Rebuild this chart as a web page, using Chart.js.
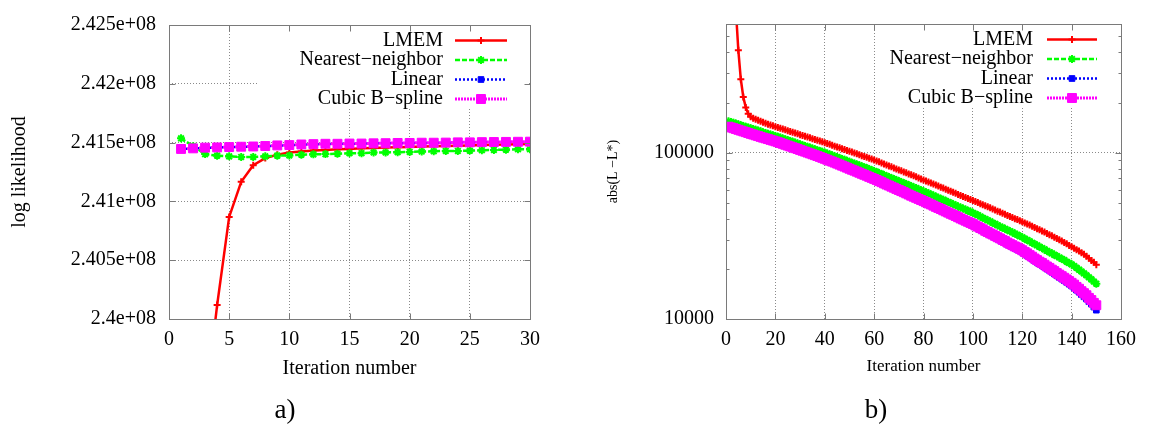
<!DOCTYPE html>
<html>
<head>
<meta charset="utf-8">
<script src="https://cdn.jsdelivr.net/npm/chart.js@4.4.0/dist/chart.umd.min.js"></script>
<style>
  html, body { margin: 0; padding: 0; background: #fff; }
  body { width: 1150px; height: 426px; position: relative; overflow: hidden;
         font-family: 'Liberation Serif', 'Times New Roman', serif; }
  .panel { position: absolute; top: 0; width: 575px; height: 426px; }
  .caption { position: absolute; top: 396px; width: 60px; font-size: 27px; line-height: 27px; text-align: center; }
</style>
</head>
<body>
<div class="panel" style="left:0"><canvas id="likelihoodChart" width="575" height="426"></canvas></div>
<div class="panel" style="left:575px"><canvas id="errorChart" width="575" height="426"></canvas></div>
<div class="caption" style="left:255px">a)</div>
<div class="caption" style="left:846px">b)</div>
<script>
// ---- a) log likelihood over the first 30 iterations ----
const likelihoodIterations = [1, 2, 3, 4, 5, 6, 7, 8, 9, 10, 11, 12, 13, 14, 15,
  16, 17, 18, 19, 20, 21, 22, 23, 24, 25, 26, 27, 28, 29, 30];
const lmemLikelihood = [233000000, 236500000, 239240000, 240118000, 240868000, 241167000, 241307000, 241368000, 241397000, 241416000,
  241424000, 241432000, 241438000, 241443000, 241446000, 241451000, 241455000, 241459000, 241461000, 241463000,
  241466000, 241468000, 241471000, 241473000, 241476000, 241479000, 241481000, 241484000, 241486000, 241489000];
const nearestLikelihood = [241536000, 241470000, 241402000, 241389000, 241383000, 241378000, 241378000, 241383000, 241389000, 241391000,
  241397000, 241400000, 241402000, 241405000, 241410000, 241410000, 241416000, 241416000, 241418000, 241421000,
  241424000, 241426000, 241429000, 241429000, 241432000, 241435000, 241438000, 241440000, 241443000, 241443000];
const linearLikelihood = [241445000, 241450000, 241455000, 241458000, 241461000, 241463000, 241466000, 241470000, 241474000, 241478000,
  241482000, 241485000, 241488000, 241489000, 241490000, 241491000, 241493000, 241494000, 241495000, 241496000,
  241497000, 241498000, 241499000, 241500000, 241501000, 241502000, 241503000, 241504000, 241505000, 241506000];
const bsplineLikelihood = [241446000, 241451000, 241457000, 241459000, 241462000, 241465000, 241467000, 241471000, 241476000, 241479000,
  241484000, 241487000, 241490000, 241490000, 241492000, 241492000, 241494000, 241495000, 241497000, 241497000,
  241499000, 241499000, 241500000, 241502000, 241502000, 241504000, 241505000, 241506000, 241507000, 241508000];
const likelihoodTickValues = [240000000, 240500000, 241000000, 241500000, 242000000, 242500000];
const likelihoodTickLabels = ['2.4e+08', '2.405e+08', '2.41e+08', '2.415e+08', '2.42e+08', '2.425e+08'];

// ---- b) abs(L - L*) over 150 iterations ----
const errorIterations = Array.from({ length: 150 }, (_, i) => i + 1);
const lmemError = [5000000, 2500000, 1260000, 720000, 412000, 276000, 216000, 187000, 171000, 164000,
  161100, 158500, 156300, 154200, 152100, 150300, 148300, 146600, 144900, 143200,
  141700, 140100, 138600, 137000, 135500, 134000, 132600, 131100, 129700, 128200,
  126800, 125400, 124000, 122700, 121300, 120000, 118700, 117400, 116100, 114800,
  113500, 112100, 110800, 109400, 108100, 106900, 105600, 104400, 103100, 101900,
  100700, 99500, 98300, 97100, 95900, 94800, 93700, 92600, 91500, 90400,
  89200, 88000, 86700, 85500, 84300, 83200, 82100, 80900, 79800, 78700,
  77700, 76600, 75600, 74500, 73500, 72500, 71500, 70500, 69500, 68500,
  67600, 66600, 65700, 64700, 63800, 62900, 62000, 61200, 60300, 59400,
  58600, 57800, 56900, 56100, 55300, 54500, 53800, 53000, 52300, 51500,
  50800, 50100, 49300, 48600, 47900, 47200, 46600, 45900, 45200, 44500,
  43900, 43200, 42600, 41900, 41300, 40700, 40100, 39600, 39000, 38400,
  37800, 37200, 36700, 36100, 35500, 34900, 34400, 33800, 33300, 32700,
  32100, 31600, 31000, 30500, 29900, 29400, 28800, 28300, 27700, 27200,
  26600, 26100, 25600, 25000, 24500, 23800, 23200, 22500, 21900, 21200];
const nearestError = [154500, 152800, 151200, 149500, 147900, 146300, 144700, 143200, 141600, 140000,
  138500, 137100, 135600, 134200, 132700, 131300, 130000, 128600, 127300, 125900,
  124500, 123100, 121700, 120300, 118900, 117600, 116200, 114900, 113500, 112200,
  110900, 109700, 108400, 107200, 105900, 104700, 103500, 102400, 101200, 100000,
  98800, 97600, 96400, 95200, 94000, 92800, 91600, 90500, 89300, 88100,
  87000, 86000, 84900, 83900, 82800, 81800, 80700, 79700, 78600, 77600,
  76600, 75500, 74500, 73400, 72400, 71400, 70400, 69500, 68500, 67500,
  66600, 65700, 64700, 63800, 62900, 62000, 61200, 60300, 59500, 58600,
  57800, 56900, 56100, 55200, 54400, 53600, 52800, 52100, 51300, 50500,
  49800, 49000, 48300, 47500, 46800, 46100, 45500, 44800, 44200, 43500,
  42800, 42100, 41300, 40600, 39900, 39200, 38600, 37900, 37300, 36600,
  36000, 35400, 34900, 34300, 33700, 33200, 32600, 32100, 31500, 31000,
  30400, 29800, 29300, 28700, 28200, 27700, 27200, 26700, 26200, 25700,
  25200, 24800, 24300, 23900, 23400, 23000, 22600, 22100, 21700, 21300,
  20800, 20300, 19800, 19300, 18800, 18300, 17800, 17300, 16800, 16300];
const linearError = [142500, 141000, 139500, 137900, 136400, 134900, 133400, 132000, 130500, 129000,
  127700, 126300, 125000, 123600, 122300, 121100, 119900, 118600, 117400, 116200,
  114900, 113500, 112200, 110800, 109500, 108200, 106900, 105600, 104400, 103100,
  101900, 100700, 99400, 98200, 97000, 95800, 94700, 93500, 92300, 91100,
  89900, 88700, 87600, 86400, 85200, 84000, 82800, 81700, 80500, 79300,
  78200, 77200, 76100, 75000, 73900, 72900, 71900, 70800, 69800, 68800,
  67800, 66700, 65700, 64600, 63600, 62700, 61700, 60800, 59800, 58900,
  58000, 57100, 56200, 55300, 54400, 53600, 52800, 52000, 51200, 50400,
  49600, 48800, 48100, 47300, 46500, 45800, 45100, 44300, 43600, 42900,
  42200, 41600, 40900, 40200, 39500, 38900, 38300, 37700, 37100, 36500,
  35800, 35200, 34500, 33900, 33200, 32600, 32000, 31500, 30900, 30300,
  29800, 29200, 28700, 28100, 27600, 27100, 26600, 26200, 25700, 25200,
  24600, 24100, 23500, 23000, 22400, 21900, 21400, 21000, 20500, 20000,
  19600, 19100, 18700, 18200, 17800, 17400, 17000, 16600, 16200, 15800,
  15400, 14900, 14500, 14000, 13600, 13200, 12700, 12300, 11800, 11300];
const bsplineError = [143200, 141700, 140200, 138600, 137100, 135600, 134100, 132700, 131200, 129700,
  128400, 127000, 125700, 124300, 123000, 121800, 120600, 119300, 118100, 116900,
  115600, 114200, 112900, 111500, 110200, 108900, 107600, 106300, 105100, 103800,
  102600, 101400, 100100, 98900, 97700, 96500, 95400, 94200, 93000, 91800,
  90600, 89400, 88300, 87100, 85900, 84700, 83500, 82400, 81200, 80000,
  78900, 77900, 76800, 75700, 74600, 73600, 72600, 71500, 70500, 69500,
  68500, 67400, 66400, 65300, 64300, 63400, 62400, 61500, 60500, 59600,
  58700, 57800, 56900, 56000, 55100, 54300, 53500, 52700, 51900, 51100,
  50300, 49500, 48800, 48000, 47200, 46500, 45800, 45000, 44300, 43600,
  42900, 42300, 41600, 40900, 40200, 39600, 39000, 38400, 37800, 37200,
  36500, 35900, 35200, 34600, 33900, 33300, 32700, 32200, 31600, 31000,
  30500, 29900, 29400, 28800, 28300, 27800, 27300, 26900, 26400, 25900,
  25300, 24800, 24200, 23700, 23100, 22600, 22100, 21700, 21200, 20700,
  20300, 19800, 19400, 18900, 18500, 18100, 17700, 17300, 16900, 16500,
  16100, 15600, 15200, 14700, 14300, 13900, 13400, 13000, 12500, 12100];
const errorTickValues = [10000, 20000, 30000, 40000, 50000, 60000, 70000, 80000, 90000,
  100000, 200000, 300000, 400000, 500000];
const errorLabelledTicks = [10000, 100000];

const seriesNames = ['LMEM', 'Nearest\u2212neighbor', 'Linear', 'Cubic B\u2212spline'];
const seriesStyle = [
  { color: '#ff0000', dash: [], width: 2.5, point: 'cross', radius: 3.5, pointWidth: 2 },
  { color: '#00ff00', dash: [5, 2], width: 2.5, point: 'star', radius: 4, pointWidth: 2 },
  { color: '#0000ff', dash: [2, 2], width: 2.5, point: 'rect', radius: 4, pointWidth: 1 },
  { color: '#ff00ff', dash: [2, 1], width: 3, point: 'rect', radius: 6.3, pointWidth: 1 }
];

const serif = '"Liberation Serif", "Times New Roman", serif';
const gridGray = '#8a8a8a';

function makeDatasets(xs, seriesValues) {
  return seriesValues.map((vals, i) => {
    const s = seriesStyle[i];
    return {
      label: seriesNames[i],
      data: vals.map((v, j) => ({ x: xs[j], y: v })),
      borderColor: s.color,
      backgroundColor: s.color,
      borderWidth: s.width,
      borderDash: s.dash,
      pointStyle: s.point,
      pointRadius: s.radius,
      pointBorderWidth: s.pointWidth,
      pointBackgroundColor: s.color,
      pointBorderColor: s.color,
      tension: 0,
      order: 4 - i   // later series painted on top
    };
  });
}

// gnuplot-like frame: full border, inward ticks on all sides, key in the upper right
const gnuplotFrame = {
  id: 'gnuplotFrame',
  beforeDatasetsDraw(chart, args, opts) {
    const a = chart.chartArea, ctx = chart.ctx;
    ctx.save();
    ctx.fillStyle = '#ffffff';
    ctx.fillRect(a.right - opts.keyWidth - 2, a.top + 1, opts.keyWidth, opts.keyHeight);
    ctx.restore();
  },
  afterDraw(chart, args, opts) {
    const a = chart.chartArea, ctx = chart.ctx;
    const xs = chart.scales.x, ys = chart.scales.y;
    const L = Math.round(a.left) + 0.5, R = Math.round(a.right) + 0.5;
    const T = Math.round(a.top) + 0.5, B = Math.round(a.bottom) + 0.5;
    ctx.save();
    ctx.strokeStyle = '#7a7a7a';
    ctx.lineWidth = 1;
    ctx.setLineDash([]);
    ctx.strokeRect(L, T, R - L, B - T);
    ctx.beginPath();
    xs.ticks.forEach(t => {
      const px = Math.round(xs.getPixelForValue(t.value)) + 0.5;
      ctx.moveTo(px, B); ctx.lineTo(px, B - 6);
      ctx.moveTo(px, T); ctx.lineTo(px, T + 6);
    });
    ys.ticks.forEach(t => {
      const py = Math.round(ys.getPixelForValue(t.value)) + 0.5;
      const len = opts.majorY && !opts.majorY.includes(t.value) ? 3 : 6;
      ctx.moveTo(L, py); ctx.lineTo(L + len, py);
      ctx.moveTo(R, py); ctx.lineTo(R - len, py);
    });
    ctx.stroke();

    // key
    ctx.font = '20px ' + serif;
    ctx.textAlign = 'right';
    ctx.textBaseline = 'middle';
    chart.data.datasets.forEach((ds, i) => {
      const y = a.top + opts.keyRowTop + i * opts.keyRowGap;
      ctx.fillStyle = '#000';
      ctx.fillText(ds.label, a.right - opts.keyTextRight, y);
      const x1 = a.right - opts.keySample[0], x2 = a.right - opts.keySample[1];
      ctx.strokeStyle = ds.borderColor;
      ctx.lineWidth = ds.borderWidth;
      ctx.setLineDash(ds.borderDash);
      ctx.beginPath(); ctx.moveTo(x1, y); ctx.lineTo(x2, y); ctx.stroke();
      ctx.setLineDash([]);
      ctx.fillStyle = ds.pointBackgroundColor;
      ctx.strokeStyle = ds.pointBorderColor;
      ctx.lineWidth = ds.pointBorderWidth;
      if (Chart.helpers && Chart.helpers.drawPoint) {
        Chart.helpers.drawPoint(ctx, { pointStyle: ds.pointStyle, radius: ds.pointRadius, rotation: 0,
          borderWidth: ds.pointBorderWidth }, (x1 + x2) / 2, y);
      }
    });
    ctx.restore();
  }
};

Chart.register(gnuplotFrame);

const tickFont = { family: serif, size: 20 };

new Chart(document.getElementById('likelihoodChart'), {
  type: 'line',
  data: {
    datasets: makeDatasets(likelihoodIterations,
      [lmemLikelihood, nearestLikelihood, linearLikelihood, bsplineLikelihood])
  },
  options: {
    responsive: false,
    animation: false,
    devicePixelRatio: 1,
    layout: { padding: { left: 0, top: 13, right: 45, bottom: 45 } },
    plugins: {
      legend: { display: false },
      tooltip: { enabled: false },
      gnuplotFrame: { keyWidth: 271, keyHeight: 83, keyRowTop: 15.5, keyRowGap: 19.5,
        keyTextRight: 87, keySample: [75, 23] }
    },
    scales: {
      x: {
        type: 'linear', min: 0, max: 30,
        ticks: { stepSize: 5, padding: 8.5, font: tickFont, color: '#000', maxRotation: 0, autoSkip: false },
        grid: { color: gridGray, lineWidth: 1, drawTicks: false },
        border: { display: false, dash: [1, 2] },
        title: { display: true, text: 'Iteration number', color: '#000', font: { family: serif, size: 20 }, padding: 0 },
        afterFit(s) { s.height = 62; }
      },
      y: {
        type: 'linear', min: 240000000, max: 242500000,
        afterBuildTicks(s) { s.ticks = likelihoodTickValues.map(v => ({ value: v })); },
        ticks: {
          padding: 13, font: tickFont, color: '#000', autoSkip: false,
          callback: v => likelihoodTickLabels[likelihoodTickValues.indexOf(v)]
        },
        grid: { color: gridGray, lineWidth: 1, drawTicks: false },
        border: { display: false, dash: [1, 2] },
        title: { display: true, text: 'log likelihood', color: '#000', font: { family: serif, size: 20 },
          padding: { top: 8, bottom: 0 } },
        afterFit(s) { s.width = 169; }
      }
    }
  }
});

new Chart(document.getElementById('errorChart'), {
  type: 'line',
  data: {
    datasets: makeDatasets(errorIterations,
      [lmemError, nearestError, linearError, bsplineError])
  },
  options: {
    responsive: false,
    animation: false,
    devicePixelRatio: 1,
    layout: { padding: { left: 0, top: 13, right: 29, bottom: 45 } },
    plugins: {
      legend: { display: false },
      tooltip: { enabled: false },
      gnuplotFrame: { keyWidth: 240, keyHeight: 83, keyRowTop: 15.5, keyRowGap: 19.5,
        keyTextRight: 88, keySample: [74, 24], majorY: errorLabelledTicks }
    },
    scales: {
      x: {
        type: 'linear', min: 0, max: 160,
        ticks: { stepSize: 20, padding: 8.5, font: tickFont, color: '#000', maxRotation: 0, autoSkip: false },
        grid: { color: gridGray, lineWidth: 1, drawTicks: false },
        border: { display: false, dash: [1, 2] },
        title: { display: true, text: 'Iteration number', color: '#000', font: { family: serif, size: 17 },
          padding: { top: 0, bottom: 4.3 } },
        afterFit(s) { s.height = 62; }
      },
      y: {
        type: 'logarithmic', min: 10000, max: 593000,
        afterBuildTicks(s) { s.ticks = errorTickValues.map(v => ({ value: v })); },
        ticks: {
          padding: 12, font: tickFont, color: '#000', autoSkip: false,
          callback: v => errorLabelledTicks.includes(v) ? String(v) : ''
        },
        grid: {
          lineWidth: 1, drawTicks: false,
          color: c => (c.tick && errorLabelledTicks.includes(c.tick.value)) ? gridGray : 'rgba(0,0,0,0)'
        },
        border: { display: false, dash: [1, 2] },
        title: { display: true, text: 'abs(L \u2212L*)', color: '#000', font: { family: serif, size: 14 },
          padding: { top: 29.6, bottom: 0 } },
        afterFit(s) { s.width = 151; }
      }
    }
  }
});
</script>
</body>
</html>
